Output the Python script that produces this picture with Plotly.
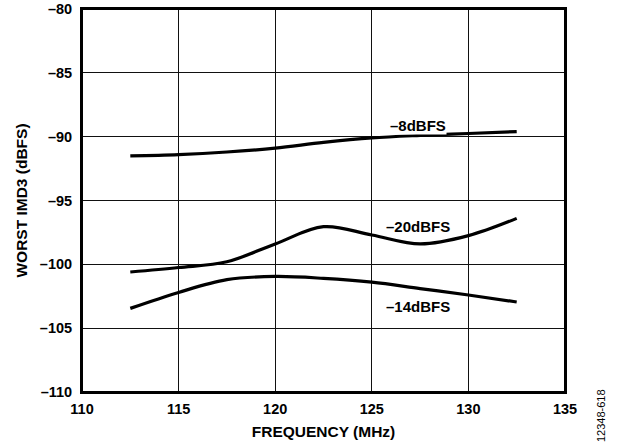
import plotly.graph_objects as go

freq = [112.5, 115.0, 117.5, 120.0, 122.5, 125.0, 127.5, 130.0, 132.5]
imd_8dbfs = [-91.5, -91.4, -91.2, -90.9, -90.45, -90.1, -89.9, -89.75, -89.6]
imd_20dbfs = [-100.6, -100.25, -99.8, -98.4, -97.05, -97.7, -98.4, -97.75, -96.4]
imd_14dbfs = [-103.45, -102.2, -101.2, -100.95, -101.1, -101.4, -101.9, -102.4, -102.95]

series_names = ["–8dBFS", "–20dBFS", "–14dBFS"]
label_x = [127.4, 127.4, 127.4]
label_y = [-89.15, -97.05, -103.3]

x_ticks = [110, 115, 120, 125, 130, 135]
x_tick_text = ["110", "115", "120", "125", "130", "135"]
y_ticks = [-110, -105, -100, -95, -90, -85, -80]
y_tick_text = ["–110", "–105", "–100", "–95", "–90", "–85", "–80"]

FONT = "Liberation Sans, Arial"

fig = go.Figure()
for ys in (imd_8dbfs, imd_20dbfs, imd_14dbfs):
    fig.add_trace(go.Scatter(x=freq, y=ys, mode="lines",
                             line=dict(color="black", width=3.2, shape="spline", smoothing=1.0),
                             showlegend=False, hoverinfo="skip"))

for name, lx, ly in zip(series_names, label_x, label_y):
    fig.add_annotation(x=lx, y=ly, text="<b>" + name + "</b>", showarrow=False,
                       font=dict(family=FONT, size=15, color="black"),
                       bgcolor="white", borderpad=0)

fig.add_annotation(xref="paper", yref="paper", x=1.076, y=-0.061,
                   xanchor="center", yanchor="middle", text="12348-618",
                   showarrow=False, textangle=-90,
                   font=dict(family=FONT, size=11, color="black"))

# frame around the plotting area
fig.add_shape(type="rect", xref="paper", yref="paper", x0=0, x1=1, y0=0, y1=1,
              line=dict(color="black", width=2), fillcolor="rgba(0,0,0,0)", layer="above")

fig.update_layout(
    width=621, height=444,
    margin=dict(l=82, r=56, t=9, b=52, autoexpand=False),
    paper_bgcolor="white", plot_bgcolor="white",
    font=dict(family=FONT, size=14, color="black"),
    xaxis=dict(range=[110, 135], tickvals=x_ticks,
               ticktext=["<b>" + t + "</b>" for t in x_tick_text],
               showgrid=True, gridcolor="#111", gridwidth=1, zeroline=False,
               showline=True, linecolor="black", linewidth=2, mirror=True,
               ticks="", automargin=False, ticklabelstandoff=3,
               ticklabeloverflow="allow",
               tickfont=dict(size=14.5, family=FONT, weight="bold"),
               title=dict(text="<b>FREQUENCY (MHz)</b>", font=dict(size=15.5), standoff=10)),
    yaxis=dict(range=[-110, -80], tickvals=y_ticks,
               ticktext=["<b>" + t + "</b>" for t in y_tick_text],
               showgrid=True, gridcolor="#111", gridwidth=1, zeroline=False,
               showline=True, linecolor="black", linewidth=2, mirror=True,
               ticks="", automargin=False, ticklabelstandoff=5,
               ticklabeloverflow="allow",
               tickfont=dict(size=14.5, family=FONT, weight="bold"),
               title=dict(text="<b>WORST IMD3 (dBFS)</b>", font=dict(size=15.5), standoff=8)),
)

fig.write_html("out.html", config={"displayModeBar": False},
               post_script="document.body.style.margin='0px';")
